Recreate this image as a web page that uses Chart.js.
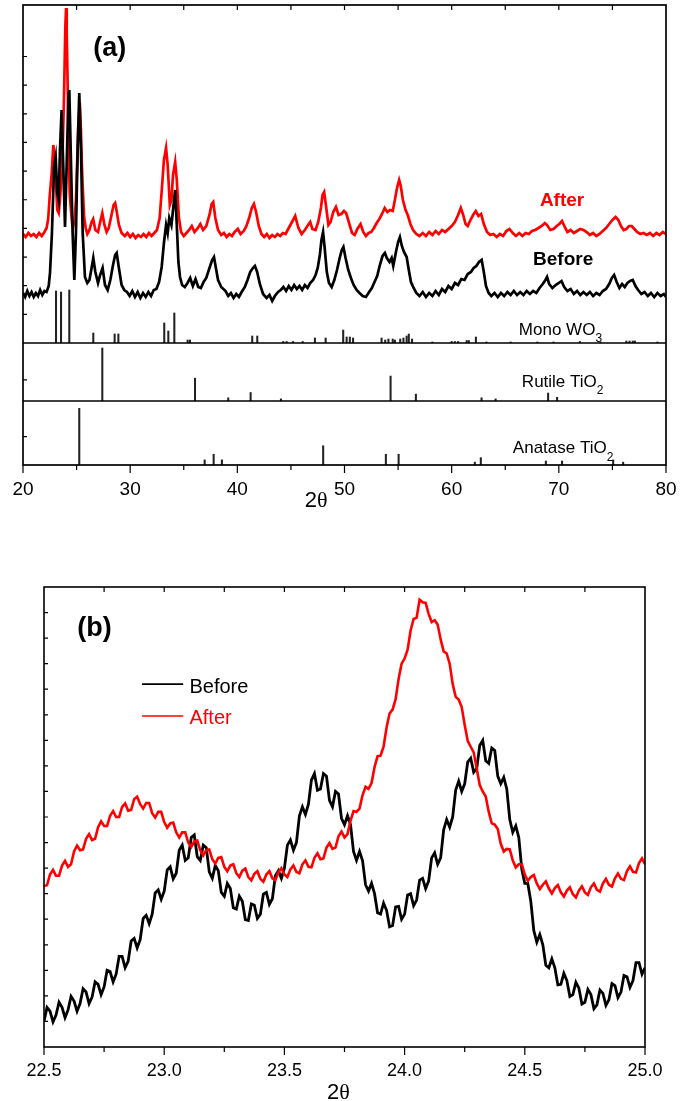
<!DOCTYPE html>
<html lang="en">
<head>
  <meta charset="UTF-8" />
  <title>XRD - Before / After</title>
  <script src="https://cdn.jsdelivr.net/npm/chart.js"></script>
  <style>
    body { margin: 0; background: #fff; }
    canvas { position: absolute; left: 0; }
  </style>
</head>
<body>
  <canvas id="xrdA" width="680" height="520" style="top:0"></canvas>
  <canvas id="xrdB" width="680" height="541" style="top:560px"></canvas>

  <script>
    // ---- panel (a): full scan, intensity in arbitrary units ----
    const xTicksA = [20, 30, 40, 50, 60, 70, 80];

    const afterA = [
      [20.0,109],[20.25,106],[20.5,110],[20.75,107],[21.0,109],[21.25,106],[21.5,110],[21.75,107],
      [22.0,111],[22.2,115],[22.35,124],[22.5,148],[22.68,170],[22.83,198],[22.95,185],[23.05,165],
      [23.2,133],[23.33,130],[23.45,143],[23.58,165],[23.7,193],[23.82,243],[23.95,316],[24.02,335],
      [24.08,310],[24.15,270],[24.26,193],[24.36,150],[24.45,136],[24.58,120],[24.67,116],[24.8,122],
      [24.94,143],[25.05,180],[25.15,215],[25.3,240],[25.4,215],[25.5,176],[25.6,150],[25.7,126],[25.85,115],
      [26.0,109],[26.2,113],[26.4,121],[26.55,124],[26.75,113],[27.0,111],[27.2,121],[27.4,130],[27.6,118],
      [27.8,111],[28.0,115],[28.2,125],[28.45,138],[28.6,140],[28.75,131],[28.95,118],[29.2,110],[29.5,107],
      [29.75,110],[30.0,106],[30.25,109],[30.5,105],[30.75,108],[31.0,106],[31.25,109],[31.5,106],[31.75,110],
      [32.0,107],[32.25,110],[32.5,113],[32.75,125],[32.95,153],[33.15,183],[33.35,195],[33.5,178],[33.7,138],
      [33.85,143],[34.0,168],[34.2,181],[34.35,163],[34.55,125],[34.75,111],[35.0,107],[35.25,110],[35.5,113],
      [35.75,117],[36.0,111],[36.25,114],[36.55,119],[36.8,113],[37.1,117],[37.4,128],[37.6,139],[37.75,141],
      [37.95,125],[38.2,113],[38.5,108],[38.75,110],[39.0,106],[39.25,109],[39.5,107],[39.75,111],[40.05,114],
      [40.3,109],[40.6,112],[40.85,117],[41.1,125],[41.35,135],[41.55,139],[41.75,131],[42.0,117],[42.25,109],
      [42.5,106],[42.75,109],[43.0,105],[43.25,108],[43.5,106],[43.75,109],[44.0,107],[44.25,110],[44.5,109],
      [44.8,115],[45.1,121],[45.4,127],[45.7,115],[46.0,109],[46.3,113],[46.6,118],[46.8,121],[47.0,114],
      [47.3,113],[47.55,121],[47.8,135],[47.95,148],[48.1,151],[48.3,135],[48.5,118],[48.7,121],[48.95,131],
      [49.2,136],[49.45,128],[49.7,129],[49.95,132],[50.15,130],[50.4,121],[50.7,110],[50.95,108],[51.2,114],
      [51.5,119],[51.75,111],[52.0,107],[52.25,110],[52.5,111],[52.75,115],[53.0,120],[53.25,124],[53.5,129],
      [53.75,135],[54.0,131],[54.25,133],[54.5,132],[54.7,143],[54.9,155],[55.1,163],[55.25,157],[55.45,143],
      [55.7,133],[55.9,128],[56.15,119],[56.4,113],[56.7,109],[57.0,107],[57.3,110],[57.6,107],[57.9,111],
      [58.2,108],[58.5,112],[58.8,109],[59.1,113],[59.4,111],[59.7,114],[60.0,117],[60.3,121],[60.6,128],
      [60.85,135],[61.05,129],[61.3,119],[61.5,117],[61.75,123],[62.0,128],[62.25,132],[62.5,127],[62.75,129],
      [63.0,119],[63.3,111],[63.6,108],[63.9,109],[64.2,106],[64.5,109],[64.8,107],[65.1,112],[65.4,114],
      [65.7,110],[66.0,107],[66.3,110],[66.6,107],[66.9,110],[67.2,109],[67.5,112],[67.8,113],[68.1,115],
      [68.4,117],[68.7,120],[68.9,118],[69.2,113],[69.5,114],[69.8,117],[70.05,119],[70.3,122],[70.55,116],
      [70.8,111],[71.1,113],[71.4,110],[71.7,112],[72.0,114],[72.3,113],[72.6,111],[72.9,108],[73.2,110],
      [73.5,107],[73.8,109],[74.1,112],[74.4,115],[74.7,119],[75.0,123],[75.3,126],[75.55,123],[75.8,117],
      [76.05,113],[76.3,114],[76.55,117],[76.8,117],[77.05,114],[77.3,111],[77.6,109],[77.9,110],[78.2,108],
      [78.5,110],[78.8,107],[79.1,110],[79.4,108],[79.7,111],[80.0,109]
    ];

    const beforeA = [
      [20.0,50],[20.2,46],[20.4,52],[20.6,47],[20.8,51],[21.0,46],[21.2,50],[21.4,47],[21.6,53],[21.8,48],
      [22.0,52],[22.2,51],[22.4,57],[22.52,70],[22.7,110],[22.9,176],[23.05,186],[23.2,150],[23.33,143],
      [23.45,193],[23.6,233],[23.76,176],[23.92,116],[24.07,176],[24.23,243],[24.32,253],[24.45,193],
      [24.63,110],[24.79,63],[24.94,110],[25.1,193],[25.25,250],[25.41,193],[25.57,110],[25.78,66],
      [26.0,60],[26.2,63],[26.4,75],[26.56,85],[26.75,71],[27.0,60],[27.2,68],[27.43,75],[27.65,58],
      [27.9,53],[28.15,63],[28.4,78],[28.6,88],[28.74,90],[28.95,75],[29.2,58],[29.45,53],[29.7,51],
      [29.95,47],[30.2,52],[30.45,46],[30.7,51],[30.95,45],[31.2,50],[31.45,46],[31.7,51],[31.95,47],
      [32.2,53],[32.45,54],[32.7,61],[32.94,76],[33.15,100],[33.35,118],[33.5,110],[33.65,125],[33.85,118],
      [34.05,138],[34.2,153],[34.35,118],[34.5,81],[34.65,66],[34.85,58],[35.1,56],[35.35,60],[35.6,65],
      [35.85,57],[36.1,64],[36.35,56],[36.6,55],[36.85,61],[37.1,65],[37.4,75],[37.65,83],[37.82,86],
      [38.0,75],[38.2,63],[38.5,56],[38.9,52],[39.15,47],[39.4,50],[39.65,45],[39.9,49],[40.15,46],
      [40.4,51],[40.7,56],[40.95,63],[41.2,71],[41.45,75],[41.64,77],[41.85,71],[42.1,59],[42.4,49],
      [42.73,45],[43.0,48],[43.25,42],[43.5,47],[43.8,51],[44.05,53],[44.3,56],[44.55,52],[44.8,57],
      [45.05,53],[45.3,58],[45.55,54],[45.8,57],[46.05,53],[46.3,58],[46.55,55],[46.8,60],[47.07,63],
      [47.3,68],[47.5,75],[47.7,88],[47.85,103],[48.0,111],[48.15,95],[48.35,71],[48.55,60],[48.8,56],
      [49.05,63],[49.3,73],[49.55,85],[49.75,93],[49.9,96],[50.1,85],[50.35,73],[50.6,65],[50.85,58],
      [51.13,53],[51.4,50],[51.7,47],[52.0,46],[52.3,51],[52.55,55],[52.8,61],[53.05,67],[53.3,78],
      [53.55,87],[53.77,90],[53.95,85],[54.2,81],[54.4,85],[54.55,77],[54.8,91],[55.0,101],[55.17,106],
      [55.35,97],[55.55,91],[55.8,86],[56.0,73],[56.2,61],[56.45,55],[56.7,50],[57.0,47],[57.3,51],
      [57.6,46],[57.9,50],[58.2,47],[58.5,52],[58.8,48],[59.1,54],[59.4,51],[59.7,57],[60.0,54],[60.3,60],
      [60.6,58],[60.9,64],[61.2,63],[61.5,69],[61.8,71],[62.05,75],[62.3,77],[62.55,81],[62.8,83],[63.0,71],
      [63.2,57],[63.45,50],[63.7,47],[64.0,50],[64.3,46],[64.6,50],[64.9,47],[65.2,51],[65.5,48],[65.8,52],
      [66.1,48],[66.4,51],[66.7,48],[67.0,52],[67.3,49],[67.6,52],[67.9,50],[68.2,55],[68.5,59],[68.75,63],
      [68.9,66],[69.1,59],[69.4,55],[69.7,58],[70.0,60],[70.25,62],[70.5,56],[70.8,52],[71.1,54],[71.4,49],
      [71.7,52],[72.0,48],[72.3,51],[72.6,48],[72.9,51],[73.2,47],[73.5,50],[73.8,48],[74.1,52],[74.4,54],
      [74.7,59],[74.95,65],[75.16,68],[75.4,61],[75.65,55],[75.9,59],[76.15,56],[76.4,60],[76.65,62],
      [76.9,63],[77.15,57],[77.4,53],[77.7,49],[78.0,51],[78.3,47],[78.6,50],[78.9,46],[79.2,50],[79.5,47],
      [79.8,49],[80.0,46]
    ];

    // reference patterns: [2theta, intensity]
    const wo3Sticks = [
      [23.08,52],[23.55,51],[24.32,53],[26.56,10],[28.55,9],[28.9,9],[33.18,20],[33.56,12],[34.12,30],
      [35.36,3],[35.58,3],[41.39,7],[41.86,7],[44.28,1.5],[44.6,1.5],[45.2,1.5],[46.1,1.5],[47.24,5],
      [48.24,5],[49.88,13],[50.2,6],[50.5,6],[50.8,5],[53.46,5],[53.8,3],[54.1,4],[54.5,4],[54.7,3],
      [55.2,4],[55.5,5],[55.8,7],[56.0,9],[56.3,4],[58.2,1],[60.0,1.5],[60.3,1.5],[60.6,1.5],[61.4,2.5],
      [61.6,2.5],[62.26,6],[63.25,1],[65.5,1],[68.0,1],[69.5,1],[71.96,1.5],[73.9,1],[76.3,2],[76.6,2],
      [76.9,2],[77.1,2],[79.2,1]
    ];
    const rutileSticks = [
      [27.4,100],[36.05,43],[39.15,6],[41.24,16],[44.07,4],[54.3,47],[56.66,13],[62.79,6],[64.1,4],
      [69.0,15],[69.84,7]
    ];
    const anataseSticks = [
      [25.25,100],[36.95,9],[37.79,19],[38.56,9],[48.01,34],[53.86,19],[55.05,19],[62.16,5],[62.72,13],
      [68.79,7],[70.3,7],[75.07,9],[76.0,5]
    ];

    // ---- panel (b): zoom on 22.5-25.0 ----
    const xTicksB = ['22.5', '23.0', '23.5', '24.0', '24.5', '25.0'];

    const beforeB = [
      [22.5,1.0],[22.5125,1.55],[22.525,1.4],[22.5375,0.98],[22.55,1.25],[22.5625,1.75],[22.575,1.55],[22.5875,1.15],
      [22.6,1.45],[22.6125,1.98],[22.625,1.8],[22.6375,1.4],[22.65,1.7],[22.6625,2.28],[22.675,2.15],[22.6875,1.7],
      [22.7,1.95],[22.7125,2.55],[22.725,2.45],[22.7375,2.05],[22.75,2.35],[22.7625,3.0],[22.775,2.95],[22.7875,2.55],
      [22.8,2.85],[22.8125,3.55],[22.825,3.55],[22.8375,3.1],[22.85,3.35],[22.8625,4.15],[22.875,4.25],[22.8875,3.88],
      [22.9,4.2],[22.9125,5.03],[22.925,5.15],[22.9375,4.83],[22.95,5.2],[22.9625,6.03],[22.975,6.15],[22.9875,5.78],
      [23.0,6.1],[23.0125,6.93],[23.025,7.05],[23.0375,6.58],[23.05,6.8],[23.0625,7.7],[23.075,7.9],[23.0875,7.3],
      [23.1,7.4],[23.1125,8.2],[23.125,8.3],[23.1375,7.45],[23.15,7.3],[23.1625,7.9],[23.175,7.8],[23.1875,6.85],
      [23.2,6.6],[23.2125,7.1],[23.225,6.9],[23.2375,6.05],[23.25,5.9],[23.2625,6.4],[23.275,6.2],[23.2875,5.45],
      [23.3,5.4],[23.3125,5.9],[23.325,5.7],[23.3375,4.98],[23.35,4.95],[23.3625,5.6],[23.375,5.55],[23.3875,5.03],
      [23.4,5.2],[23.4125,5.98],[23.425,6.05],[23.4375,5.58],[23.45,5.8],[23.4625,6.7],[23.475,6.9],[23.4875,6.6],
      [23.5,7.0],[23.5125,7.9],[23.525,8.1],[23.5375,7.7],[23.55,8.0],[23.5625,9.05],[23.575,9.4],[23.5875,9.1],
      [23.6,9.5],[23.6125,10.45],[23.625,10.7],[23.6375,10.05],[23.65,10.1],[23.6625,10.7],[23.675,10.6],[23.6875,9.65],
      [23.7,9.4],[23.7125,10.0],[23.725,9.9],[23.7375,8.95],[23.75,8.7],[23.7625,9.05],[23.775,8.7],[23.7875,7.65],
      [23.8,7.3],[23.8125,7.65],[23.825,7.3],[23.8375,6.35],[23.85,6.1],[23.8625,6.4],[23.875,6.0],[23.8875,5.25],
      [23.9,5.2],[23.9125,5.63],[23.925,5.35],[23.9375,4.7],[23.95,4.75],[23.9625,5.48],[23.975,5.5],[23.9875,5.0],
      [24.0,5.2],[24.0125,5.95],[24.025,6.0],[24.0375,5.53],[24.05,5.75],[24.0625,6.53],[24.075,6.6],[24.0875,6.2],
      [24.1,6.5],[24.1125,7.4],[24.125,7.6],[24.1375,7.15],[24.15,7.4],[24.1625,8.5],[24.175,8.9],[24.1875,8.6],
      [24.2,9.0],[24.2125,10.05],[24.225,10.4],[24.2375,10.0],[24.25,10.3],[24.2625,11.15],[24.275,11.3],[24.2875,10.75],
      [24.3,10.9],[24.3125,11.8],[24.325,12.0],[24.3375,11.2],[24.35,11.1],[24.3625,11.7],[24.375,11.6],[24.3875,10.6],
      [24.4,10.3],[24.4125,10.55],[24.425,10.1],[24.4375,8.9],[24.45,8.4],[24.4625,8.65],[24.475,8.2],[24.4875,6.95],
      [24.5,6.4],[24.5125,6.4],[24.525,5.7],[24.5375,4.55],[24.55,4.1],[24.5625,4.4],[24.575,4.0],[24.5875,3.2],
      [24.6,3.1],[24.6125,3.45],[24.625,3.1],[24.6375,2.43],[24.65,2.45],[24.6625,2.88],[24.675,2.6],[24.6875,1.98],
      [24.7,2.05],[24.7125,2.53],[24.725,2.3],[24.7375,1.68],[24.75,1.75],[24.7625,2.25],[24.775,2.05],[24.7875,1.5],
      [24.8,1.65],[24.8125,2.23],[24.825,2.1],[24.8375,1.63],[24.85,1.85],[24.8625,2.48],[24.875,2.4],[24.8875,1.93],
      [24.9,2.15],[24.9125,2.8],[24.925,2.75],[24.9375,2.33],[24.95,2.6],[24.9625,3.3],[24.975,3.3],[24.9875,2.85],
      [25.0,3.1]
    ];

    const afterB = [
      [22.5,6.3],[22.5125,6.33],[22.525,6.75],[22.5375,6.93],[22.55,6.7],[22.5625,6.7],[22.575,7.1],[22.5875,7.28],
      [22.6,7.05],[22.6125,7.15],[22.625,7.65],[22.6375,7.88],[22.65,7.7],[22.6625,7.73],[22.675,8.15],[22.6875,8.33],
      [22.7,8.1],[22.7125,8.15],[22.725,8.6],[22.7375,8.83],[22.75,8.65],[22.7625,8.65],[22.775,9.05],[22.7875,9.23],
      [22.8,9.0],[22.8125,9.0],[22.825,9.4],[22.8375,9.53],[22.85,9.25],[22.8625,9.28],[22.875,9.7],[22.8875,9.8],
      [22.9,9.5],[22.9125,9.33],[22.925,9.55],[22.9375,9.55],[22.95,9.15],[22.9625,8.98],[22.975,9.2],[22.9875,9.2],
      [23.0,8.8],[23.0125,8.58],[23.025,8.75],[23.0375,8.78],[23.05,8.4],[23.0625,8.2],[23.075,8.4],[23.0875,8.4],
      [23.1,8.0],[23.1125,7.83],[23.125,8.05],[23.1375,8.08],[23.15,7.7],[23.1625,7.5],[23.175,7.7],[23.1875,7.73],
      [23.2,7.35],[23.2125,7.18],[23.225,7.4],[23.2375,7.43],[23.25,7.05],[23.2625,6.88],[23.275,7.1],[23.2875,7.15],
      [23.3,6.8],[23.3125,6.65],[23.325,6.9],[23.3375,6.98],[23.35,6.65],[23.3625,6.52],[23.375,6.78],[23.3875,6.88],
      [23.4,6.58],[23.4125,6.47],[23.425,6.75],[23.4375,6.88],[23.45,6.6],[23.4625,6.53],[23.475,6.85],[23.4875,7.0],
      [23.5,6.75],[23.5125,6.65],[23.525,6.95],[23.5375,7.1],[23.55,6.85],[23.5625,6.8],[23.575,7.15],[23.5875,7.3],
      [23.6,7.05],[23.6125,7.03],[23.625,7.4],[23.6375,7.58],[23.65,7.35],[23.6625,7.38],[23.675,7.8],[23.6875,7.98],
      [23.7,7.75],[23.7125,7.8],[23.725,8.25],[23.7375,8.43],[23.75,8.2],[23.7625,8.33],[23.775,8.85],[23.7875,9.23],
      [23.8,9.2],[23.8125,9.33],[23.825,9.85],[23.8375,10.18],[23.85,10.1],[23.8625,10.33],[23.875,10.95],[23.8875,11.38],
      [23.9,11.4],[23.9125,11.75],[23.925,12.5],[23.9375,13.05],[23.95,13.2],[23.9625,13.6],[23.975,14.4],[23.9875,15.0],
      [24.0,15.2],[24.0125,15.55],[24.025,16.3],[24.0375,16.75],[24.05,16.8],[24.0625,17.5],[24.075,17.4],[24.0875,17.38],
      [24.1,16.95],[24.1125,16.63],[24.125,16.7],[24.1375,16.53],[24.15,15.95],[24.1625,15.48],[24.175,15.4],[24.1875,15.0],
      [24.2,14.2],[24.2125,13.7],[24.225,13.6],[24.2375,13.3],[24.25,12.6],[24.2625,11.98],[24.275,11.75],[24.2875,11.53],
      [24.3,10.9],[24.3125,10.25],[24.325,10.0],[24.3375,9.8],[24.35,9.2],[24.3625,8.75],[24.375,8.7],[24.3875,8.53],
      [24.4,7.95],[24.4125,7.65],[24.425,7.75],[24.4375,7.73],[24.45,7.3],[24.4625,7.03],[24.475,7.15],[24.4875,7.15],
      [24.5,6.75],[24.5125,6.5],[24.525,6.65],[24.5375,6.73],[24.55,6.4],[24.5625,6.18],[24.575,6.35],[24.5875,6.48],
      [24.6,6.2],[24.6125,6.01],[24.625,6.22],[24.6375,6.34],[24.65,6.05],[24.6625,5.89],[24.675,6.12],[24.6875,6.25],
      [24.7,5.98],[24.7125,5.85],[24.725,6.12],[24.7375,6.29],[24.75,6.05],[24.7625,5.95],[24.775,6.25],[24.7875,6.4],
      [24.8,6.15],[24.8125,6.08],[24.825,6.4],[24.8375,6.58],[24.85,6.35],[24.8625,6.28],[24.875,6.6],[24.8875,6.79],
      [24.9,6.58],[24.9125,6.53],[24.925,6.88],[24.9375,7.07],[24.95,6.85],[24.9625,6.83],[24.975,7.2],[24.9875,7.38],
      [25.0,7.15]
    ];

    const SANS = '"Liberation Sans", Arial, sans-serif';
    const SERIF = '"Liberation Serif", "Times New Roman", serif';
    const pts = arr => arr.map(([x, y]) => ({ x, y }));

    // frame, inward ticks on left/top, outward ticks at the bottom, panel separators
    const axisDecor = {
      id: 'axisDecor',
      afterDatasetsDraw(chart, args, o) {
        const { ctx, chartArea: a, scales } = chart;
        const xs = scales.x;
        ctx.save();
        ctx.strokeStyle = '#000';
        ctx.lineWidth = 1.2;
        ctx.beginPath();
        xs.ticks.forEach(t => {
          const px = xs.getPixelForValue(t.value);
          const len = t.label === '' ? o.minorLen : o.majorLen;
          ctx.moveTo(px, a.bottom);
          ctx.lineTo(px, a.bottom + len);
          if (t.value > xs.min && t.value < xs.max) {
            ctx.moveTo(px, a.top);
            ctx.lineTo(px, a.top + o.inLen);
          }
        });
        o.yIds.forEach(id => {
          const s = scales[id];
          s.ticks.forEach(t => {
            const py = s.getPixelForValue(t.value);
            if (py > s.top + 4 && py < s.bottom - 4) {
              ctx.moveTo(a.left, py);
              ctx.lineTo(a.left + o.inLen - 1, py);
            }
          });
        });
        ctx.stroke();

        ctx.lineWidth = o.frame;
        ctx.beginPath();
        o.yIds.forEach(id => {
          const s = scales[id];
          if (s.bottom < a.bottom - 1) {
            ctx.moveTo(a.left, s.bottom);
            ctx.lineTo(a.right, s.bottom);
          }
        });
        ctx.stroke();
        ctx.strokeRect(a.left, a.top, a.right - a.left, a.bottom - a.top);
        ctx.restore();
      }
    };

    // free text (labels with subscripts), plus an in-plot legend
    const annotate = {
      id: 'annotate',
      afterDraw(chart, args, o) {
        const { ctx, chartArea: a, scales } = chart;
        const xs = scales.x;
        ctx.save();
        ctx.textBaseline = 'alphabetic';
        (o.items || []).forEach(it => {
          let px = xs.getPixelForValue(it.x);
          const py = it.below != null ? a.bottom + it.below : scales[it.yId || 'y'].getPixelForValue(it.y);
          let total = 0;
          it.parts.forEach(([txt, font]) => { ctx.font = font; total += ctx.measureText(txt).width; });
          if (it.align === 'center') px -= total / 2;
          ctx.fillStyle = it.color || '#000';
          it.parts.forEach(([txt, font, dy]) => {
            ctx.font = font;
            ctx.fillText(txt, px, py + (dy || 0));
            px += ctx.measureText(txt).width;
          });
        });
        if (o.legend) {
          const L = o.legend;
          const ys = scales[L.yId || 'y'];
          chart.data.datasets.forEach((ds, i) => {
            const row = L.rows[i];
            const ly = ys.getPixelForValue(row.line);
            ctx.strokeStyle = ds.borderColor;
            ctx.lineWidth = 1.6;
            ctx.beginPath();
            ctx.moveTo(xs.getPixelForValue(L.x0), ly);
            ctx.lineTo(xs.getPixelForValue(L.x1), ly);
            ctx.stroke();
            ctx.fillStyle = ds.borderColor;
            ctx.font = L.font;
            ctx.fillText(ds.label, xs.getPixelForValue(L.tx), ys.getPixelForValue(row.text));
          });
        }
        ctx.restore();
      }
    };

    function hiddenY(extra) {
      return Object.assign({
        position: 'left',
        offset: false,
        grid: { display: false, drawTicks: false },
        border: { display: false },
        afterFit: s => { s.width = 0; }
      }, extra);
    }

    // invisible tick marks are used only to push the labels down
    const labelGap = len => ({
      display: true, drawOnChartArea: false, drawTicks: true, tickLength: len,
      color: 'rgba(0,0,0,0)', offset: false
    });

    const stick = (data, axis) => ({
      type: 'bar',
      data: pts(data),
      yAxisID: axis,
      backgroundColor: '#222',
      borderWidth: 0,
      barThickness: 1.4,
      grouped: false
    });

    new Chart(document.getElementById('xrdA'), {
      type: 'line',
      data: {
        datasets: [
          { label: 'Before', data: pts(beforeA), borderColor: '#000', borderWidth: 2.7, yAxisID: 'y' },
          { label: 'After', data: pts(afterA), borderColor: '#ff0000', borderWidth: 2.7, yAxisID: 'y' },
          Object.assign(stick(wo3Sticks, 'y'), { label: 'Mono WO3' }),
          Object.assign(stick(rutileSticks, 'yR'), { label: 'Rutile TiO2' }),
          Object.assign(stick(anataseSticks, 'yA'), { label: 'Anatase TiO2' })
        ]
      },
      options: {
        responsive: false,
        animation: false,
        events: [],
        layout: { padding: { left: 23, right: 14, top: 5, bottom: 0 } },
        elements: { point: { radius: 0 }, line: { tension: 0 } },
        plugins: {
          legend: { display: false },
          tooltip: { enabled: false },
          axisDecor: { yIds: ['y', 'yR', 'yA'], inLen: 5, majorLen: 8, minorLen: 5, frame: 1.7 },
          annotate: {
            items: [
              { x: 28.1, y: 287, align: 'center', parts: [['(a)', 'bold 27px ' + SANS]] },
              { x: 70.3, y: 137, align: 'center', color: '#ff0000', parts: [['After', 'bold 19px ' + SANS]] },
              { x: 70.4, y: 78, align: 'center', parts: [['Before', 'bold 19px ' + SANS]] },
              { x: 66.27, y: 8, parts: [['Mono WO', '17px ' + SANS], ['3', '12px ' + SANS, 7]] },
              { x: 66.55, y: 26, yId: 'yR', parts: [['Rutile TiO', '17px ' + SANS], ['2', '12px ' + SANS, 7]] },
              { x: 65.71, y: 21, yId: 'yA', parts: [['Anatase TiO', '17px ' + SANS], ['2', '12px ' + SANS, 8]] },
              { x: 46.3, below: 42, parts: [['2', '22px ' + SANS], ['\u03b8', '22px ' + SERIF]] }
            ]
          }
        },
        scales: {
          x: {
            type: 'linear', min: 20, max: 80, offset: false,
            grid: labelGap(13),
            border: { display: false },
            ticks: {
              stepSize: 5, autoSkip: false, maxRotation: 0, padding: 0, color: '#000',
              font: { family: SANS, size: 19 },
              callback: v => xTicksA.includes(v) ? String(v) : ''
            },
            afterFit: s => { s.height = 55; }
          },
          y: hiddenY({ min: 0, max: 338, stack: 'xrd', stackWeight: 338, weight: 3, ticks: { display: false, stepSize: 28.65 } }),
          yR: hiddenY({ min: 0, max: 109.4, stack: 'xrd', stackWeight: 58, weight: 2, ticks: { display: false, stepSize: 40 } }),
          yA: hiddenY({ min: 0, max: 113, stack: 'xrd', stackWeight: 64, weight: 1, ticks: { display: false, stepSize: 50 } })
        }
      },
      plugins: [axisDecor, annotate]
    });

    new Chart(document.getElementById('xrdB'), {
      type: 'line',
      data: {
        datasets: [
          { label: 'Before', data: pts(beforeB), borderColor: '#000', borderWidth: 2.8, order: 2 },
          { label: 'After', data: pts(afterB), borderColor: '#ff0000', borderWidth: 2.6, order: 1 }
        ]
      },
      options: {
        responsive: false,
        animation: false,
        events: [],
        layout: { padding: { left: 44, right: 35, top: 27, bottom: 0 } },
        elements: { point: { radius: 0 }, line: { tension: 0 } },
        plugins: {
          legend: { display: false },
          tooltip: { enabled: false },
          axisDecor: { yIds: ['y'], inLen: 5, majorLen: 8, minorLen: 5, frame: 1.6 },
          annotate: {
            items: [
              { x: 22.71, y: 16.1, align: 'center', parts: [['(b)', 'bold 27px ' + SANS]] },
              { x: 23.677, below: 52, parts: [['2', '22px ' + SANS], ['\u03b8', '22px ' + SERIF]] }
            ],
            legend: {
              x0: 22.908, x1: 23.079, tx: 23.105, font: '20px ' + SANS,
              rows: [{ line: 14.2, text: 13.85 }, { line: 12.95, text: 12.64 }]
            }
          }
        },
        scales: {
          x: {
            type: 'linear', min: 22.5, max: 25.0, offset: false,
            grid: labelGap(13),
            border: { display: false },
            ticks: {
              stepSize: 0.25, autoSkip: false, maxRotation: 0, padding: 0, color: '#000',
              font: { family: SANS, size: 18 },
              callback: v => xTicksB.includes(v.toFixed(1)) && Math.abs(v * 2 - Math.round(v * 2)) < 1e-6 ? v.toFixed(1) : ''
            },
            afterFit: s => { s.height = 54; }
          },
          y: hiddenY({ min: 0, max: 18, ticks: { display: false, stepSize: 1 } })
        }
      },
      plugins: [axisDecor, annotate]
    });
  </script>
</body>
</html>
